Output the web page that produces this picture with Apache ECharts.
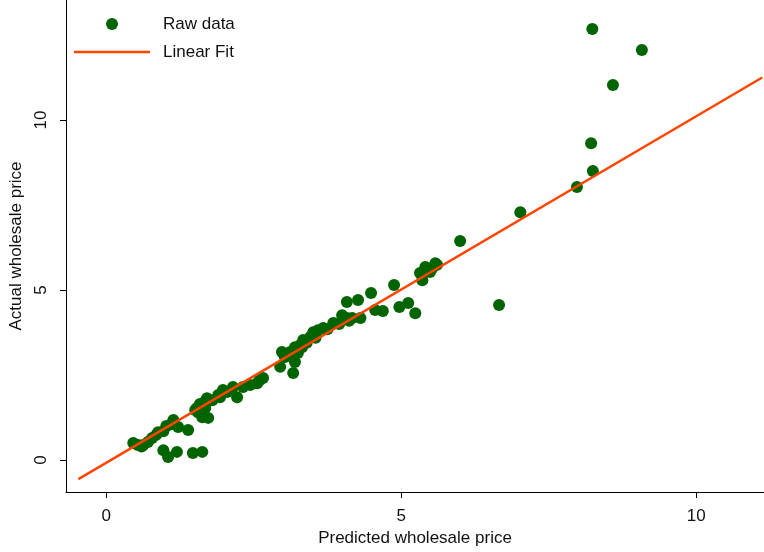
<!DOCTYPE html>
<html>
<head>
<meta charset="utf-8">
<script src="https://cdn.jsdelivr.net/npm/echarts@6/dist/echarts.min.js"></script>
<style>html,body{margin:0;padding:0;background:#fff}#c{width:764px;height:552px}</style>
</head>
<body>
<div id="c"></div>
<script>
var predicted = [0.46,0.54,0.63,0.71,0.78,0.85,0.88,0.97,0.97,1.05,1.20,1.47,1.63,1.14,1.22,1.39,1.51,1.54,1.63,1.73,1.59,1.71,1.68,1.80,1.90,1.98,1.93,2.15,2.22,2.32,2.44,2.56,2.66,2.98,2.95,3.03,3.17,3.20,3.12,3.20,3.29,3.32,3.34,3.46,3.51,3.59,3.68,3.85,4.00,4.08,4.17,4.31,4.08,4.27,4.49,4.56,4.69,4.88,4.97,5.12,5.24,5.32,5.36,5.41,5.44,5.49,5.53,5.58,5.61,6.00,6.66,7.02,7.98,8.25,8.22,8.59,8.24,9.08,0.60,1.02,1.10,1.56,1.66,2.05,2.60,3.08,3.25,3.40,3.55,3.75,3.95,4.12];
var actual    = [0.50,0.44,0.44,0.53,0.65,0.74,0.82,0.85,0.29,0.09,0.24,0.21,0.24,1.18,0.97,0.88,1.47,1.53,1.26,1.24,1.65,1.82,1.53,1.76,1.91,2.06,1.85,2.15,1.85,2.15,2.21,2.26,2.41,3.18,2.74,3.03,2.56,2.88,3.18,3.32,3.38,3.32,3.53,3.62,3.76,3.82,3.88,4.03,4.26,4.18,4.18,4.18,4.65,4.71,4.91,4.41,4.38,5.15,4.50,4.62,4.32,5.50,5.29,5.68,5.59,5.53,5.65,5.79,5.74,6.44,4.56,7.29,8.03,8.50,9.32,11.03,12.68,12.06,0.40,1.00,1.05,1.40,1.70,2.00,2.35,3.10,3.15,3.45,3.60,3.85,4.00,4.10];
var fitX = [-0.47, 11.12];
var fitY = [-0.56, 11.25];
var xTicks = [0, 5, 10];
var yTicks = [0, 5, 10];
var xTitle = 'Predicted wholesale price';
var yTitle = 'Actual wholesale price';
var seriesNames = ['Raw data', 'Linear Fit'];

var raw = predicted.map(function (v, i) { return [v, actual[i]]; });
var fit = fitX.map(function (v, i) { return [v, fitY[i]]; });
var FONT = '"Liberation Sans", Arial, Helvetica, sans-serif';

var chart = echarts.init(document.getElementById('c'), null, {renderer: 'canvas'});
chart.setOption({
  animation: false,
  backgroundColor: '#ffffff',
  textStyle: {fontFamily: FONT},
  grid: {left: 66, right: 0, top: 0, bottom: 60, containLabel: false},
  legend: {
    left: 74, top: 14, padding: 0, orient: 'vertical', itemWidth: 76, itemHeight: 12, itemGap: 8,
    textStyle: {fontFamily: FONT, fontSize: 17, color: '#111', lineHeight: 20, padding: [0, 0, 0, 8]},
    data: [
      {name: seriesNames[0], icon: 'circle'},
      {name: seriesNames[1], icon: 'path://M0,0 L76,0 L76,2.5 L0,2.5 Z'}
    ]
  },
  xAxis: {
    type: 'value', min: -0.68, max: 11.15,
    splitLine: {show: false},
    axisLine: {show: true, onZero: false, lineStyle: {color: '#000', width: 1}},
    axisTick: {show: true, length: 6, customValues: xTicks, lineStyle: {color: '#000'}},
    axisLabel: {customValues: xTicks, fontSize: 17, color: '#111', margin: 16, fontFamily: FONT},
    name: xTitle, nameLocation: 'middle', nameGap: 35,
    nameTextStyle: {fontSize: 17, color: '#111', fontFamily: FONT}
  },
  yAxis: {
    type: 'value', min: -0.94, max: 13.53,
    splitLine: {show: false},
    axisLine: {show: true, onZero: false, lineStyle: {color: '#000', width: 1}},
    axisTick: {show: true, length: 6, customValues: yTicks, lineStyle: {color: '#000'}},
    axisLabel: {customValues: yTicks, fontSize: 17, color: '#111', margin: 16, rotate: 90, fontFamily: FONT},
    name: yTitle, nameLocation: 'middle', nameGap: 39, nameRotate: 90,
    nameTextStyle: {fontSize: 17, color: '#111', fontFamily: FONT}
  },
  series: [
    {
      name: seriesNames[0], type: 'scatter', data: raw, symbol: 'circle', symbolSize: 12,
      itemStyle: {color: '#006400', opacity: 1}, z: 2
    },
    {
      name: seriesNames[1], type: 'line', data: fit, showSymbol: false, symbol: 'none',
      lineStyle: {color: '#ff4500', width: 2.5}, itemStyle: {color: '#ff4500'}, z: 3
    }
  ]
});
</script>
</body>
</html>
